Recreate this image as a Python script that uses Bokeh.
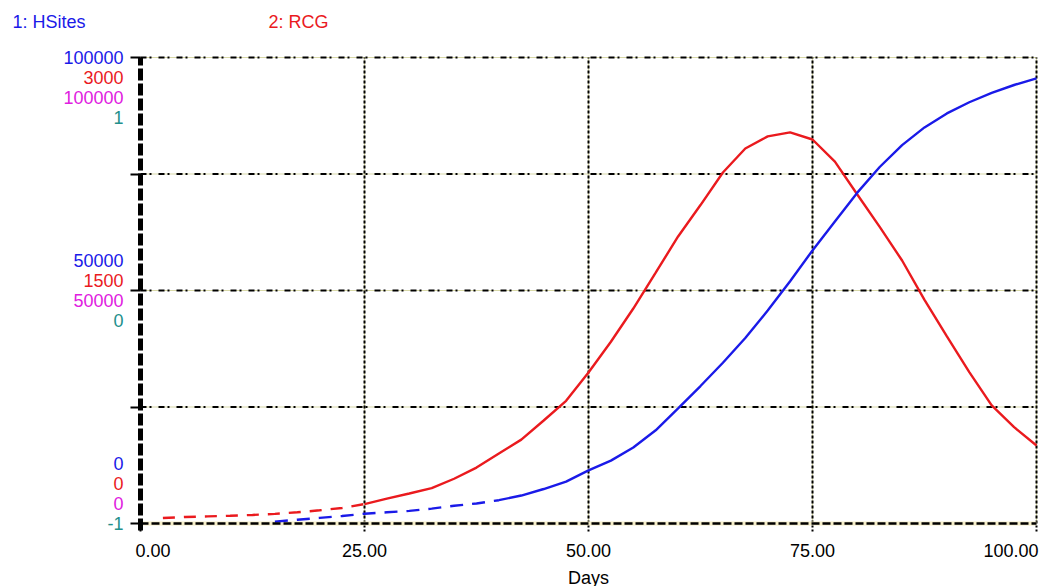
from bokeh.plotting import figure
from bokeh.models import Range1d, LinearAxis, FixedTicker, Label, CustomJSTickFormatter
from bokeh.embed import file_html
from bokeh.resources import INLINE

# ---------------- data ----------------
days = [0, 2.5, 5, 7.5, 10, 12.5, 15, 17.5, 20, 22.5, 25, 27.5, 30, 32.5, 35, 37.5, 40,
        42.5, 45, 47.5, 50, 52.5, 55, 57.5, 60, 62.5, 65, 67.5, 70, 72.5, 75, 77.5, 80,
        82.5, 85, 87.5, 90, 92.5, 95, 97.5, 100]
hsites = [0, 0, 0, 0, 0, 100, 400, 800, 1200, 1600, 2100, 2400, 2700, 3200, 3800, 4300, 5000,
          6000, 7400, 9000, 11400, 13500, 16300, 20000, 24700, 29500, 34500, 39800, 45700, 52000, 58600, 64800, 71000,
          76500, 81200, 85000, 88000, 90400, 92400, 94100, 95500]
rcg = [25, 35, 42, 46, 50, 55, 62, 72, 85, 100, 125, 160, 193, 228, 288, 360, 450,
       540, 663, 790, 972, 1170, 1384, 1615, 1848, 2050, 2260, 2414, 2492, 2518, 2472, 2330, 2118,
       1910, 1693, 1440, 1204, 975, 760, 620, 502]

x_ticks = [0, 25, 50, 75, 100]
x_tick_labels = ["0.00", "25.00", "50.00", "75.00", "100.00"]
y_ticks = [0, 25000, 50000, 75000, 100000]
hsites_scale = [0, 50000, 100000]
rcg_scale = [0, 1500, 3000]
s3_scale = [0, 50000, 100000]
s4_scale = [-1, 0, 1]
series_names = ["1: HSites", "2: RCG"]
x_title = "Days"

BLUE = "#1a1ae8"
RED = "#ea1a1e"
MAG = "#e020e0"
TEAL = "#23908c"
KHAKI = "#d8d8a8"
FONT = "Liberation Sans"
FS = "18px"

# layout: plot area maps day 0..100 -> px 140..1036, value 100000..0 -> px 57..523
W, H = 1040, 586
L, R, T, B = 140, 1036, 57, 523
ppx = (R - L) / 100.0
ppy = (B - T) / 100000.0
x_rng = Range1d(-L / ppx, 100 + (W - R) / ppx)
y_rng = Range1d(-(H - B) / ppy, 100000 + T / ppy)
rcg_rng = Range1d(y_rng.start * 3000 / 100000, y_rng.end * 3000 / 100000)

p = figure(width=W, height=H, output_backend="svg", toolbar_location=None,
           x_range=x_rng, y_range=y_rng, min_border=0,
           x_axis_location=None, y_axis_location=None)
p.extra_y_ranges = {"rcg": rcg_rng}
p.outline_line_color = None
p.xgrid.visible = False
p.ygrid.visible = False
p.background_fill_color = "white"
p.border_fill_color = "white"

empty = CustomJSTickFormatter(code="return ''")

# grid lines (khaki base + black pattern)
gx0 = [x_ticks[0]] * (len(y_ticks) - 1)
gx1 = [x_ticks[-1]] * (len(y_ticks) - 1)
p.segment(x0=gx0, y0=y_ticks[1:], x1=gx1, y1=y_ticks[1:], line_color=KHAKI, line_width=1.2)
p.segment(x0=gx0, y0=y_ticks[1:], x1=gx1, y1=y_ticks[1:], line_color="black", line_width=2,
          line_dash="6 3 2 7")
vy0 = [y_ticks[0]] * (len(x_ticks) - 1)
vy1 = [y_ticks[-1]] * (len(x_ticks) - 1)
p.segment(x0=x_ticks[1:], y0=vy0, x1=x_ticks[1:], y1=vy1, line_color=KHAKI, line_width=1.2)
p.segment(x0=x_ticks[1:], y0=vy0, x1=x_ticks[1:], y1=vy1, line_color="black", line_width=2,
          line_dash="3 2")
p.segment(x0=[x_ticks[0]], y0=[y_ticks[0]], x1=[x_ticks[-1]], y1=[y_ticks[0]],
          line_color="#f6eec8", line_width=4)

# curves
i_red = days.index(25)
p.line(days[1:i_red + 1], rcg[1:i_red + 1], y_range_name="rcg", line_color=RED, line_width=2.4,
       line_dash="12 9")
p.line(days[i_red:], rcg[i_red:], y_range_name="rcg", line_color=RED, line_width=2.4)
i_b0 = days.index(15)
i_b1 = days.index(40)
p.line(days[i_b0:i_b1 + 1], hsites[i_b0:i_b1 + 1], line_color=BLUE, line_width=2.4, line_dash="13 9")
p.line(days[i_b1:], hsites[i_b1:], line_color=BLUE, line_width=2.4)

# axes fixed at the data origin
xa = LinearAxis(fixed_location=0, bounds=(x_ticks[0], x_ticks[-1]), ticker=FixedTicker(ticks=x_ticks),
                formatter=empty)
xa.axis_line_color = "black"
xa.axis_line_width = 2.5
xa.axis_line_dash = "8 3"
xa.major_tick_in = 0
xa.major_tick_out = 8
xa.major_tick_line_width = 2
xa.major_tick_line_dash = "2 2"
xa.minor_tick_line_color = None
xa.major_label_text_font_size = "1px"
p.add_layout(xa, "below")

ya = LinearAxis(fixed_location=0, bounds=(-1500, y_ticks[-1]), ticker=FixedTicker(ticks=y_ticks),
                formatter=empty)
ya.axis_line_color = "black"
ya.axis_line_width = 5
ya.axis_line_dash = "12 3"
ya.major_tick_in = 0
ya.major_tick_out = 10
ya.major_tick_line_width = 2
ya.minor_tick_line_color = None
ya.major_label_text_font_size = "1px"
p.add_layout(ya, "left")

# series titles
p.add_layout(Label(x=0, y=hsites_scale[-1], x_offset=-128, y_offset=36, text=series_names[0],
                   text_color=BLUE, text_font=FONT, text_font_size=FS, text_baseline="middle"))
p.add_layout(Label(x=0, y=hsites_scale[-1], x_offset=128, y_offset=36, text=series_names[1],
                   text_color=RED, text_font=FONT, text_font_size=FS, text_baseline="middle"))

# stacked scale labels
colors = [BLUE, RED, MAG, TEAL]
scales = [hsites_scale, rcg_scale, s3_scale, s4_scale]
group_offsets = {2: [0, -20, -40, -60], 1: [30, 10, -10, -30], 0: [60, 40, 20, 0]}
for level in range(3):
    for k in range(4):
        p.add_layout(Label(x=0, y=hsites_scale[level], x_offset=-17, y_offset=group_offsets[level][k],
                           text=str(int(scales[k][level])), text_color=colors[k], text_font=FONT,
                           text_font_size=FS, text_align="right", text_baseline="middle"))

# x tick labels
aligns = ["left", "center", "center", "center", "right"]
xoffs = [-5, 0, 0, 0, 2]
for t, lab, al, xo in zip(x_ticks, x_tick_labels, aligns, xoffs):
    p.add_layout(Label(x=t, y=0, x_offset=xo, y_offset=-27, text=lab, text_color="black",
                       text_font=FONT, text_font_size=FS, text_align=al, text_baseline="middle"))
p.add_layout(Label(x=50, y=0, y_offset=-54, text=x_title, text_color="black", text_font=FONT,
                   text_font_size=FS, text_align="center", text_baseline="middle"))

open("out.html", "w").write(file_html(p, INLINE))
